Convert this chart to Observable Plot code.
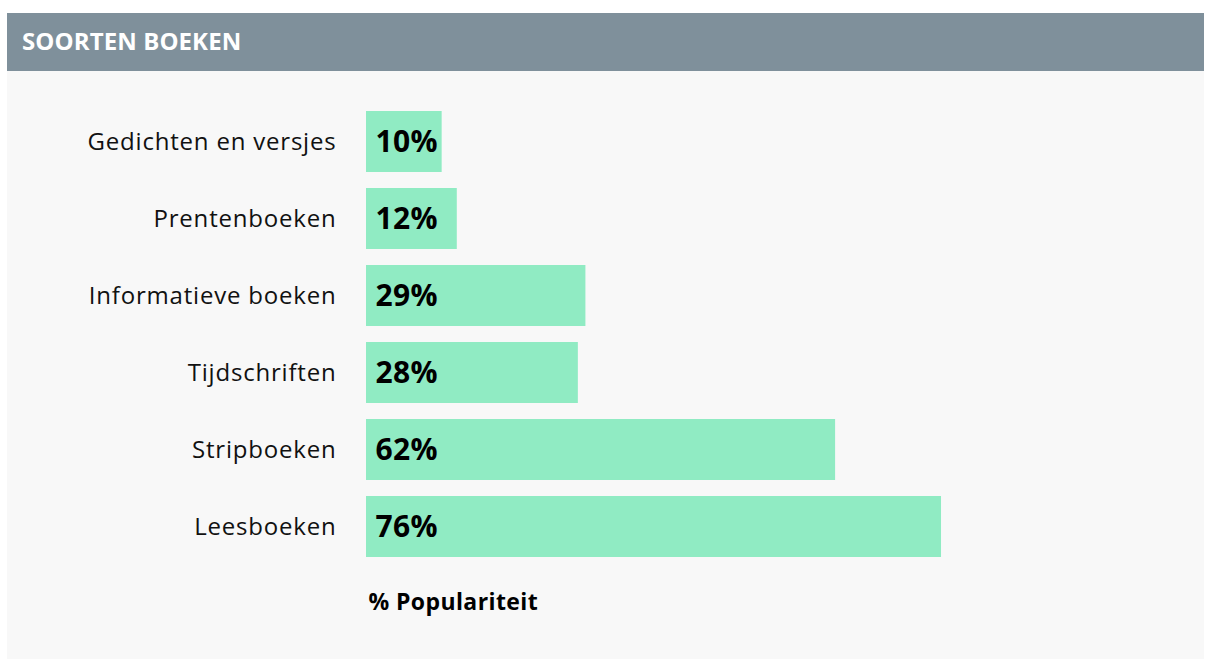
<!DOCTYPE html>
<html>
<head>
<meta charset="utf-8">
<script src="https://cdn.jsdelivr.net/npm/d3@7"></script>
<script src="https://cdn.jsdelivr.net/npm/@observablehq/plot@0.6"></script>
<style>
  html, body { margin: 0; padding: 0; background: #ffffff; }
  #wrap { position: absolute; left: 7px; top: 13px; width: 1197px; }
  #header { height: 58px; background: #7f909b; color: #ffffff; font-family: "Open Sans", sans-serif; font-weight: 700; font-size: 24px; line-height: 56px; padding-left: 15px; box-sizing: border-box; letter-spacing: 0.1px; }
  #panel { background: #f8f8f8; height: 588px; }
  #panel svg { display: block; }
  #panel svg g[aria-label="y-axis tick label"] { letter-spacing: 0.8px; }
  #panel svg g[aria-label="text"] { letter-spacing: 0.4px; }
</style>
</head>
<body>
<div id="wrap">
  <div id="header">SOORTEN BOEKEN</div>
  <div id="panel"></div>
</div>
<script>
const categories = ["Gedichten en versjes", "Prentenboeken", "Informatieve boeken", "Tijdschriften", "Stripboeken", "Leesboeken"];
const values = [10, 12, 29, 28, 62, 76];
const axisLabel = "% Populariteit";

const data = categories.map((c, i) => ({category: c, value: values[i]}));

const chart = Plot.plot({
  width: 1197,
  height: 588,
  marginLeft: 359,
  marginRight: 81.4,
  marginTop: 22.6,
  marginBottom: 84.6,
  style: {background: "transparent", fontFamily: "Open Sans, sans-serif", color: "#111"},
  x: {domain: [0, 100], axis: null},
  y: {domain: categories, padding: 0.212, label: null},
  marks: [
    Plot.barX(data, {x: "value", y: "category", fill: "#90ebc3"}),
    Plot.text(data, {x: 0, y: "category", text: d => `${d.value}%`, textAnchor: "start", dx: 9, fontSize: 30, fontWeight: "bold", fill: "#000"}),
    Plot.axisY({tickSize: 0, tickPadding: 30, fontSize: 24, label: null}),
    Plot.text([axisLabel], {frameAnchor: "bottom-left", dx: 2, dy: 28, lineAnchor: "middle", textAnchor: "start", fontSize: 23, fontWeight: "bold", fill: "#000"})
  ]
});
document.getElementById("panel").appendChild(chart);
</script>
</body>
</html>
